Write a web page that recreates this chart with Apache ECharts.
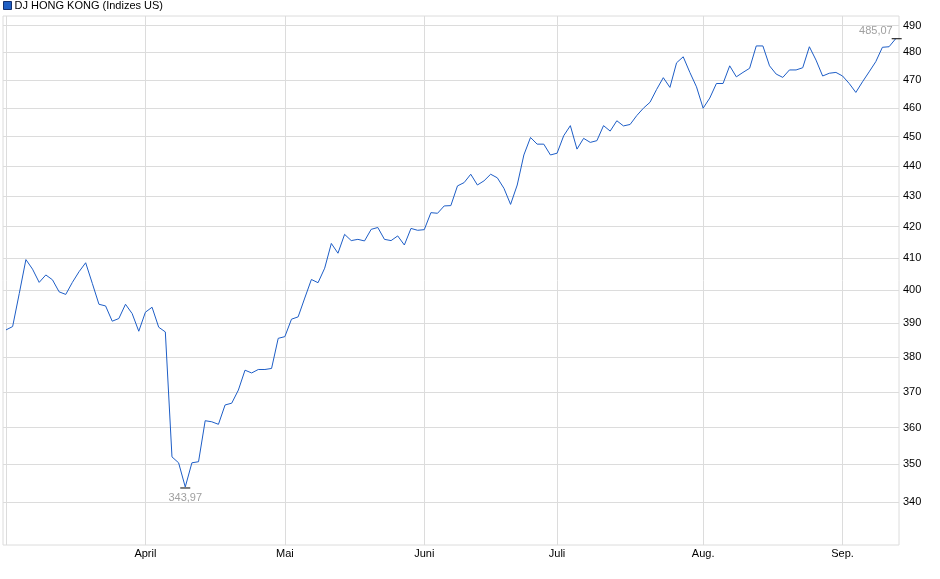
<!DOCTYPE html>
<html>
<head>
<meta charset="utf-8">
<script src="https://cdn.jsdelivr.net/npm/echarts@6/dist/echarts.min.js"></script>
<style>
html,body{margin:0;padding:0;background:#fff;}
#chart{width:940px;height:579px;}
</style>
</head>
<body>
<div id="chart"></div>
<script>
const seriesName = 'DJ HONG KONG (Indizes US)';

// US trading days, 2025-03-03 .. 2025-09-12
const dates = [
  '2025-03-03','2025-03-04','2025-03-05','2025-03-06','2025-03-07','2025-03-10','2025-03-11','2025-03-12','2025-03-13','2025-03-14',
  '2025-03-17','2025-03-18','2025-03-19','2025-03-20','2025-03-21','2025-03-24','2025-03-25','2025-03-26','2025-03-27','2025-03-28','2025-03-31',
  '2025-04-01','2025-04-02','2025-04-03','2025-04-04','2025-04-07','2025-04-08','2025-04-09','2025-04-10','2025-04-11','2025-04-14',
  '2025-04-15','2025-04-16','2025-04-17','2025-04-21','2025-04-22','2025-04-23','2025-04-24','2025-04-25','2025-04-28','2025-04-29','2025-04-30',
  '2025-05-01','2025-05-02','2025-05-05','2025-05-06','2025-05-07','2025-05-08','2025-05-09','2025-05-12','2025-05-13','2025-05-14',
  '2025-05-15','2025-05-16','2025-05-19','2025-05-20','2025-05-21','2025-05-22','2025-05-23','2025-05-27','2025-05-28','2025-05-29','2025-05-30',
  '2025-06-02','2025-06-03','2025-06-04','2025-06-05','2025-06-06','2025-06-09','2025-06-10','2025-06-11','2025-06-12','2025-06-13',
  '2025-06-16','2025-06-17','2025-06-18','2025-06-20','2025-06-23','2025-06-24','2025-06-25','2025-06-26','2025-06-27','2025-06-30',
  '2025-07-01','2025-07-02','2025-07-03','2025-07-07','2025-07-08','2025-07-09','2025-07-10','2025-07-11','2025-07-14','2025-07-15','2025-07-16',
  '2025-07-17','2025-07-18','2025-07-21','2025-07-22','2025-07-23','2025-07-24','2025-07-25','2025-07-28','2025-07-29','2025-07-30','2025-07-31',
  '2025-08-01','2025-08-04','2025-08-05','2025-08-06','2025-08-07','2025-08-08','2025-08-11','2025-08-12','2025-08-13','2025-08-14','2025-08-15',
  '2025-08-18','2025-08-19','2025-08-20','2025-08-21','2025-08-22','2025-08-25','2025-08-26','2025-08-27','2025-08-28','2025-08-29',
  '2025-09-02','2025-09-03','2025-09-04','2025-09-05','2025-09-08','2025-09-09','2025-09-10','2025-09-11','2025-09-12'
];

const values = [
  388.0, 389.0, 399.0, 409.5, 406.5, 402.4, 404.7, 403.2, 399.5, 398.7,
  402.4, 405.7, 408.5, 402.1, 395.7, 395.2, 390.6, 391.4, 395.7, 392.9, 387.6,
  393.3, 394.8, 388.8, 387.4, 352.0, 350.4, 343.97, 350.4, 350.7, 361.9,
  361.6, 360.9, 366.3, 366.8, 370.5, 376.2, 375.4, 376.4, 376.4, 376.7, 385.5,
  386.0, 391.2, 391.9, 397.6, 403.3, 402.3, 406.8, 414.6, 411.5, 417.5,
  415.5, 415.9, 415.4, 419.1, 419.7, 415.9, 415.5, 417.0, 414.1, 419.4, 418.8,
  419.0, 424.5, 424.3, 426.7, 426.8, 433.3, 434.4, 437.2, 433.6, 435.0,
  437.2, 436.0, 432.5, 427.2, 433.6, 443.7, 449.7, 447.4, 447.4, 443.7,
  444.3, 450.3, 453.8, 445.7, 449.4, 448.0, 448.6, 453.8, 451.9, 455.5, 453.7,
  454.2, 457.3, 459.9, 462.0, 466.6, 470.8, 467.3, 476.2, 478.4, 472.7, 467.5,
  459.9, 463.5, 468.7, 468.7, 475.1, 471.1, 472.7, 474.2, 482.4, 482.4, 475.1,
  472.1, 470.9, 473.6, 473.6, 474.4, 482.1, 477.2, 471.4, 472.4, 472.7,
  471.4, 468.7, 465.5, 469.3, 472.9, 476.6, 481.9, 482.1, 485.07
];

const monthStarts = ['2025-03-03','2025-04-01','2025-05-01','2025-06-02','2025-07-01','2025-08-01','2025-09-02'];
const monthNames  = ['',          'April',     'Mai',       'Juni',      'Juli',      'Aug.',      'Sep.'];

const yTicks = [340, 350, 360, 370, 380, 390, 400, 410, 420, 430, 440, 450, 460, 470, 480, 490];

const monthIdx = monthStarts.map(d => dates.indexOf(d));
const labelIdx = monthIdx.filter((_, i) => monthNames[i] !== '');
const nameByIdx = {};
monthIdx.forEach((ix, i) => { nameByIdx[ix] = monthNames[i]; });
const lineData = values.map((v, i) => [i, v]);
const fmt = v => Number(v).toFixed(2).replace('.', ',');

const chart = echarts.init(document.getElementById('chart'), null, {renderer: 'canvas'});
chart.setOption({
  animation: false,
  textStyle: {fontFamily: '"Liberation Sans", Arial, sans-serif'},
  legend: {
    left: 3, top: 0, padding: 0,
    icon: 'rect', itemWidth: 8, itemHeight: 8, itemGap: 10,
    textStyle: {fontSize: 11, color: '#000', padding: [0, 0, 0, -2]},
    data: [{name: seriesName, itemStyle: {color: '#1f5fc4', borderColor: '#13306e', borderWidth: 1}}]
  },
  grid: {
    left: 3, right: 41, top: 16, bottom: 34,
    show: true, borderColor: '#dcdcdc', borderWidth: 1
  },
  xAxis: {
    type: 'value',
    min: -0.45, max: 134.5,
    axisLine: {show: false},
    axisTick: {show: false, customValues: monthIdx},
    axisLabel: {
      customValues: labelIdx,
      formatter: v => nameByIdx[v] || '',
      fontSize: 11, color: '#000', margin: 3
    },
    splitLine: {show: true, lineStyle: {color: '#dcdcdc', width: 1}}
  },
  yAxis: {
    type: 'log', logBase: 10,
    position: 'right',
    min: 329, max: 493.6,
    axisLine: {show: false},
    axisTick: {show: false, customValues: yTicks},
    axisLabel: {
      customValues: yTicks,
      formatter: v => String(Math.round(v)),
      fontSize: 11, color: '#000', margin: 4
    },
    splitLine: {show: true, lineStyle: {color: '#dcdcdc', width: 1}}
  },
  series: [{
    name: seriesName,
    type: 'line',
    data: lineData,
    showSymbol: false,
    symbol: 'none',
    color: '#1f5fc4',
    lineStyle: {color: '#1d5dc6', width: 1},
    markPoint: {
      symbol: 'rect',
      symbolSize: [10, 1],
      itemStyle: {color: '#000'},
      label: {color: '#a0a0a0', fontSize: 11, formatter: p => fmt(p.value)},
      data: [
        {type: 'min', symbolOffset: [0, 1], label: {position: 'bottom', distance: 4}},
        {type: 'max', symbolOffset: [1, 0], label: {position: 'top', align: 'right', offset: [-4, 1], distance: 3}}
      ]
    }
  }]
});
</script>
</body>
</html>
